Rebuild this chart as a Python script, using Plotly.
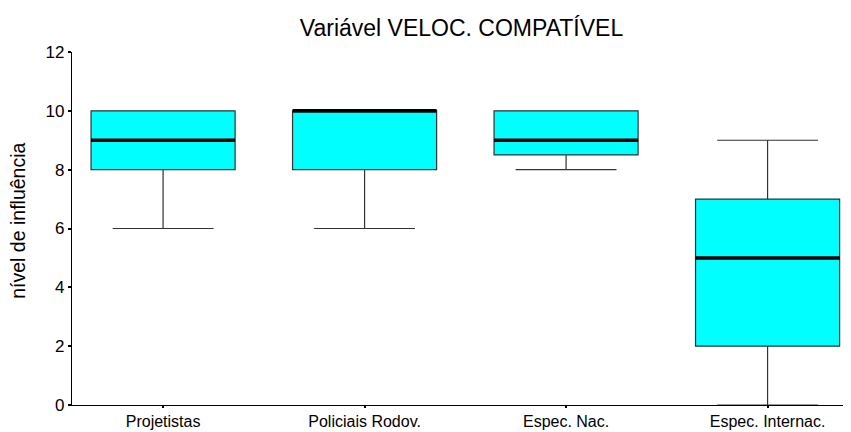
import plotly.graph_objects as go

categories = ["Projetistas", "Policiais Rodov.", "Espec. Nac.", "Espec. Internac."]
lower_fence = [6, 6, 8, 0]
q1 = [8, 8, 8.5, 2]
median = [9, 10, 9, 5]
q3 = [10, 10, 10, 7]
upper_fence = [10, 10, 10, 9]
y_ticks = [0, 2, 4, 6, 8, 10, 12]

BOX_W = 0.715
FONT = "Liberation Sans, Arial, Helvetica, sans-serif"

fig = go.Figure()
for i, c in enumerate(categories):
    fig.add_trace(go.Box(
        x=[i], q1=[q1[i]], median=[median[i]], q3=[q3[i]],
        lowerfence=[lower_fence[i]], upperfence=[upper_fence[i]],
        width=BOX_W, whiskerwidth=0.7,
        fillcolor="#00FFFF", line=dict(color="#333333", width=1.2),
        boxpoints=False, name=c, showlegend=False, hoverinfo="skip",
    ))

mx, my = [], []
for i, m in enumerate(median):
    mx += [i - BOX_W / 2, i + BOX_W / 2, None]
    my += [m, m, None]
fig.add_trace(go.Scatter(x=mx, y=my, mode="lines",
                         line=dict(color="black", width=3.5),
                         showlegend=False, hoverinfo="skip"))

# page body has an 8px margin, so the figure is sized/offset to compensate
fig.update_layout(
    width=843, height=424,
    margin=dict(l=64, r=0, t=44, b=27),
    paper_bgcolor="white", plot_bgcolor="white",
    font=dict(family=FONT, color="black"),
    title=dict(text="Variável VELOC. COMPATÍVEL", xref="paper", x=0.5, xanchor="center",
               y=1 - 20 / 424, yanchor="middle", font=dict(size=23, color="black")),
    showlegend=False,
    annotations=[dict(text="nível de influência", textangle=-90,
                      xref="paper", x=0, xanchor="center", xshift=-54,
                      yref="paper", y=0.522, yanchor="middle", showarrow=False,
                      font=dict(size=19.5, color="black"))],
)
fig.update_xaxes(
    range=[-0.452, 3.414], tickvals=list(range(len(categories))), ticktext=categories,
    showline=True, linecolor="black", linewidth=1.3, showgrid=False, zeroline=False,
    ticks="outside", ticklen=2, tickwidth=2, tickcolor="black",
    tickfont=dict(size=16, color="black"),
)
fig.update_yaxes(
    range=[0, 12], tickvals=y_ticks,
    showline=True, linecolor="black", linewidth=1.3, showgrid=False, zeroline=False,
    ticks="outside", ticklen=3, tickwidth=2, tickcolor="black",
    tickfont=dict(size=17, color="black"),
)
fig.write_html("out.html")
